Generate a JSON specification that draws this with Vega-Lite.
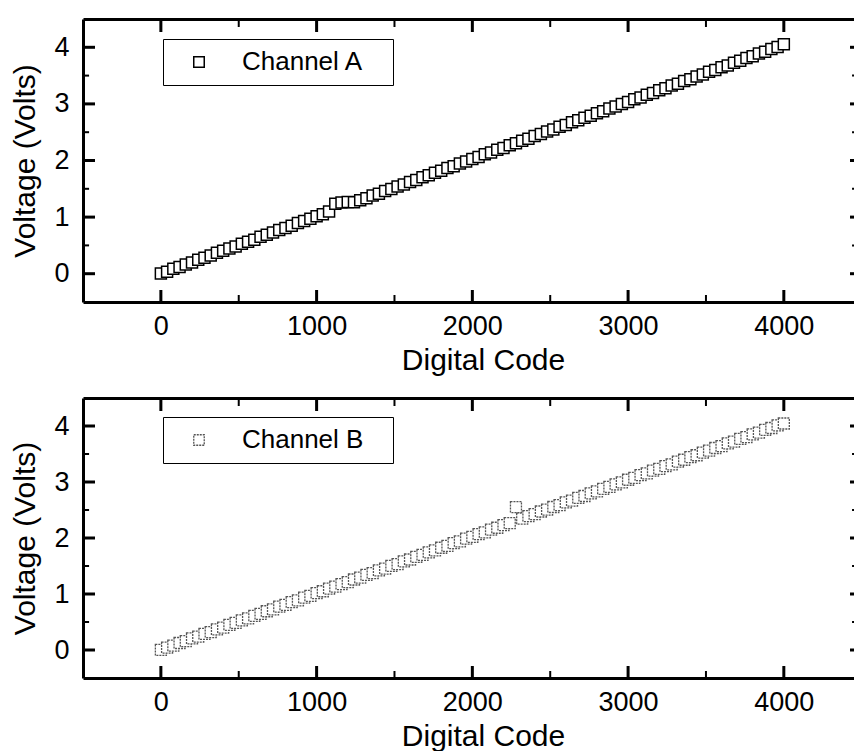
{
  "$schema": "https://vega.github.io/schema/vega-lite/v6.json",
  "padding": {"left": 10, "top": 17, "right": 0, "bottom": 0},
  "background": "white",
  "config": {
    "font": "Liberation Sans",
    "view": {"stroke": null},
    "concat": {"spacing": 21},
    "axis": {
      "grid": false,
      "domainColor": "black",
      "domainWidth": 3,
      "labelFont": "Liberation Sans",
      "labelFontSize": 27,
      "labelColor": "black",
      "titleFont": "Liberation Sans",
      "titleFontSize": 30,
      "titleFontWeight": "normal",
      "titleColor": "black"
    }
  },
  "datasets": {
    "xmajor": [{"pos": 0}, {"pos": 1000}, {"pos": 2000}, {"pos": 3000}, {"pos": 4000}],
    "xminor": [{"pos": 500}, {"pos": 1500}, {"pos": 2500}, {"pos": 3500}],
    "ymajor": [{"pos": 0}, {"pos": 1}, {"pos": 2}, {"pos": 3}, {"pos": 4}],
    "yminor": [{"pos": 0.5}, {"pos": 1.5}, {"pos": 2.5}, {"pos": 3.5}],
    "chA": [
      {"code": 0, "volts": 0.004}, {"code": 40, "volts": 0.036}, {"code": 80, "volts": 0.087}, {"code": 120, "volts": 0.119},
      {"code": 160, "volts": 0.163}, {"code": 200, "volts": 0.197}, {"code": 240, "volts": 0.247}, {"code": 280, "volts": 0.283},
      {"code": 320, "volts": 0.321}, {"code": 360, "volts": 0.369}, {"code": 400, "volts": 0.404}, {"code": 440, "volts": 0.447},
      {"code": 480, "volts": 0.480}, {"code": 520, "volts": 0.529}, {"code": 560, "volts": 0.566}, {"code": 600, "volts": 0.602},
      {"code": 640, "volts": 0.652}, {"code": 680, "volts": 0.690}, {"code": 720, "volts": 0.726}, {"code": 760, "volts": 0.774},
      {"code": 800, "volts": 0.808}, {"code": 840, "volts": 0.848}, {"code": 880, "volts": 0.895}, {"code": 920, "volts": 0.929},
      {"code": 960, "volts": 0.969}, {"code": 1000, "volts": 1.016}, {"code": 1040, "volts": 1.050}, {"code": 1080, "volts": 1.097},
      {"code": 1120, "volts": 1.236}, {"code": 1160, "volts": 1.259}, {"code": 1200, "volts": 1.268}, {"code": 1240, "volts": 1.262},
      {"code": 1280, "volts": 1.299}, {"code": 1320, "volts": 1.333}, {"code": 1360, "volts": 1.380}, {"code": 1400, "volts": 1.414},
      {"code": 1440, "volts": 1.461}, {"code": 1480, "volts": 1.495}, {"code": 1520, "volts": 1.541}, {"code": 1560, "volts": 1.575},
      {"code": 1600, "volts": 1.622}, {"code": 1640, "volts": 1.656}, {"code": 1680, "volts": 1.703}, {"code": 1720, "volts": 1.738},
      {"code": 1760, "volts": 1.785}, {"code": 1800, "volts": 1.819}, {"code": 1840, "volts": 1.866}, {"code": 1880, "volts": 1.899},
      {"code": 1920, "volts": 1.946}, {"code": 1960, "volts": 1.981}, {"code": 2000, "volts": 2.027}, {"code": 2040, "volts": 2.060},
      {"code": 2080, "volts": 2.109}, {"code": 2120, "volts": 2.142}, {"code": 2160, "volts": 2.190}, {"code": 2200, "volts": 2.222},
      {"code": 2240, "volts": 2.271}, {"code": 2280, "volts": 2.304}, {"code": 2320, "volts": 2.351}, {"code": 2360, "volts": 2.385},
      {"code": 2400, "volts": 2.433}, {"code": 2440, "volts": 2.466}, {"code": 2480, "volts": 2.513}, {"code": 2520, "volts": 2.547},
      {"code": 2560, "volts": 2.595}, {"code": 2600, "volts": 2.628}, {"code": 2640, "volts": 2.676}, {"code": 2680, "volts": 2.709},
      {"code": 2720, "volts": 2.757}, {"code": 2760, "volts": 2.790}, {"code": 2800, "volts": 2.837}, {"code": 2840, "volts": 2.871},
      {"code": 2880, "volts": 2.919}, {"code": 2920, "volts": 2.952}, {"code": 2960, "volts": 3.000}, {"code": 3000, "volts": 3.033},
      {"code": 3040, "volts": 3.080}, {"code": 3080, "volts": 3.113}, {"code": 3120, "volts": 3.161}, {"code": 3160, "volts": 3.194},
      {"code": 3200, "volts": 3.242}, {"code": 3240, "volts": 3.275}, {"code": 3280, "volts": 3.323}, {"code": 3320, "volts": 3.356},
      {"code": 3360, "volts": 3.404}, {"code": 3400, "volts": 3.437}, {"code": 3440, "volts": 3.485}, {"code": 3480, "volts": 3.518},
      {"code": 3520, "volts": 3.566}, {"code": 3560, "volts": 3.599}, {"code": 3600, "volts": 3.647}, {"code": 3640, "volts": 3.680},
      {"code": 3680, "volts": 3.728}, {"code": 3720, "volts": 3.761}, {"code": 3760, "volts": 3.809}, {"code": 3800, "volts": 3.842},
      {"code": 3840, "volts": 3.890}, {"code": 3880, "volts": 3.923}, {"code": 3920, "volts": 3.971}, {"code": 3960, "volts": 4.004},
      {"code": 4000, "volts": 4.052}
    ],
    "chB": [
      {"code": 0, "volts": 0.002}, {"code": 40, "volts": 0.043}, {"code": 80, "volts": 0.078}, {"code": 120, "volts": 0.125},
      {"code": 160, "volts": 0.158}, {"code": 200, "volts": 0.206}, {"code": 240, "volts": 0.240}, {"code": 280, "volts": 0.287},
      {"code": 320, "volts": 0.320}, {"code": 360, "volts": 0.367}, {"code": 400, "volts": 0.401}, {"code": 440, "volts": 0.449},
      {"code": 480, "volts": 0.483}, {"code": 520, "volts": 0.530}, {"code": 560, "volts": 0.563}, {"code": 600, "volts": 0.611},
      {"code": 640, "volts": 0.645}, {"code": 680, "volts": 0.692}, {"code": 720, "volts": 0.725}, {"code": 760, "volts": 0.773},
      {"code": 800, "volts": 0.806}, {"code": 840, "volts": 0.854}, {"code": 880, "volts": 0.887}, {"code": 920, "volts": 0.935},
      {"code": 960, "volts": 0.968}, {"code": 1000, "volts": 1.016}, {"code": 1040, "volts": 1.049}, {"code": 1080, "volts": 1.097},
      {"code": 1120, "volts": 1.130}, {"code": 1160, "volts": 1.178}, {"code": 1200, "volts": 1.211}, {"code": 1240, "volts": 1.259},
      {"code": 1280, "volts": 1.292}, {"code": 1320, "volts": 1.340}, {"code": 1360, "volts": 1.373}, {"code": 1400, "volts": 1.421},
      {"code": 1440, "volts": 1.454}, {"code": 1480, "volts": 1.502}, {"code": 1520, "volts": 1.535}, {"code": 1560, "volts": 1.583},
      {"code": 1600, "volts": 1.616}, {"code": 1640, "volts": 1.664}, {"code": 1680, "volts": 1.697}, {"code": 1720, "volts": 1.745},
      {"code": 1760, "volts": 1.778}, {"code": 1800, "volts": 1.826}, {"code": 1840, "volts": 1.859}, {"code": 1880, "volts": 1.907},
      {"code": 1920, "volts": 1.940}, {"code": 1960, "volts": 1.988}, {"code": 2000, "volts": 2.021}, {"code": 2040, "volts": 2.068},
      {"code": 2080, "volts": 2.102}, {"code": 2120, "volts": 2.149}, {"code": 2160, "volts": 2.183}, {"code": 2200, "volts": 2.230},
      {"code": 2240, "volts": 2.264}, {"code": 2280, "volts": 2.552}, {"code": 2320, "volts": 2.345}, {"code": 2360, "volts": 2.392},
      {"code": 2400, "volts": 2.426}, {"code": 2440, "volts": 2.473}, {"code": 2480, "volts": 2.507}, {"code": 2520, "volts": 2.554},
      {"code": 2560, "volts": 2.588}, {"code": 2600, "volts": 2.635}, {"code": 2640, "volts": 2.669}, {"code": 2680, "volts": 2.716},
      {"code": 2720, "volts": 2.750}, {"code": 2760, "volts": 2.797}, {"code": 2800, "volts": 2.831}, {"code": 2840, "volts": 2.878},
      {"code": 2880, "volts": 2.912}, {"code": 2920, "volts": 2.959}, {"code": 2960, "volts": 2.993}, {"code": 3000, "volts": 3.040},
      {"code": 3040, "volts": 3.073}, {"code": 3080, "volts": 3.121}, {"code": 3120, "volts": 3.154}, {"code": 3160, "volts": 3.202},
      {"code": 3200, "volts": 3.235}, {"code": 3240, "volts": 3.283}, {"code": 3280, "volts": 3.316}, {"code": 3320, "volts": 3.364},
      {"code": 3360, "volts": 3.397}, {"code": 3400, "volts": 3.445}, {"code": 3440, "volts": 3.478}, {"code": 3480, "volts": 3.526},
      {"code": 3520, "volts": 3.559}, {"code": 3560, "volts": 3.607}, {"code": 3600, "volts": 3.640}, {"code": 3640, "volts": 3.688},
      {"code": 3680, "volts": 3.721}, {"code": 3720, "volts": 3.769}, {"code": 3760, "volts": 3.802}, {"code": 3800, "volts": 3.850},
      {"code": 3840, "volts": 3.883}, {"code": 3880, "volts": 3.931}, {"code": 3920, "volts": 3.964}, {"code": 3960, "volts": 4.012},
      {"code": 4000, "volts": 4.045}
    ]
  },
  "vconcat": [
    {
      "width": 772,
      "height": 283,
      "layer": [
        {
          "data": {"name": "chA"},
          "mark": {"type": "point", "opacity": 0},
          "encoding": {
            "x": {"field": "code", "type": "quantitative", "scale": {"domain": [-500, 4457], "nice": false, "zero": false},
                  "axis": {"orient": "top", "labels": false, "ticks": false, "title": null, "domain": true}},
            "y": {"field": "volts", "type": "quantitative", "scale": {"domain": [-0.5, 4.5], "nice": false, "zero": false}, "axis": null}
          }
        },
        {
          "data": {"name": "xmajor"},
          "mark": {"type": "rule", "color": "black", "strokeWidth": 3},
          "encoding": {"x": {"field": "pos", "type": "quantitative", "axis": null}, "y": {"datum": -0.5, "type": "quantitative", "axis": null}, "y2": {"datum": -0.288}}
        },
        {
          "data": {"name": "xminor"},
          "mark": {"type": "rule", "color": "black", "strokeWidth": 2},
          "encoding": {"x": {"field": "pos", "type": "quantitative", "axis": null}, "y": {"datum": -0.5, "type": "quantitative", "axis": null}, "y2": {"datum": -0.376}}
        },
        {
          "data": {"name": "xmajor"},
          "mark": {"type": "rule", "color": "black", "strokeWidth": 3},
          "encoding": {"x": {"field": "pos", "type": "quantitative", "axis": null}, "y": {"datum": 4.5, "type": "quantitative", "axis": null}, "y2": {"datum": 4.27}}
        },
        {
          "data": {"name": "xminor"},
          "mark": {"type": "rule", "color": "black", "strokeWidth": 2},
          "encoding": {"x": {"field": "pos", "type": "quantitative", "axis": null}, "y": {"datum": 4.5, "type": "quantitative", "axis": null}, "y2": {"datum": 4.359}}
        },
        {
          "data": {"name": "ymajor"},
          "mark": {"type": "rule", "color": "black", "strokeWidth": 3},
          "encoding": {"y": {"field": "pos", "type": "quantitative", "axis": null}, "x": {"datum": -500, "type": "quantitative", "axis": null}, "x2": {"datum": -423}}
        },
        {
          "data": {"name": "yminor"},
          "mark": {"type": "rule", "color": "black", "strokeWidth": 2},
          "encoding": {"y": {"field": "pos", "type": "quantitative", "axis": null}, "x": {"datum": -500, "type": "quantitative", "axis": null}, "x2": {"datum": -461}}
        },
        {
          "data": {"name": "ymajor"},
          "mark": {"type": "rule", "color": "black", "strokeWidth": 3},
          "encoding": {"y": {"field": "pos", "type": "quantitative", "axis": null}, "x": {"datum": 4457, "type": "quantitative", "axis": null}, "x2": {"datum": 4425}}
        },
        {
          "data": {"name": "yminor"},
          "mark": {"type": "rule", "color": "black", "strokeWidth": 2},
          "encoding": {"y": {"field": "pos", "type": "quantitative", "axis": null}, "x": {"datum": 4457, "type": "quantitative", "axis": null}, "x2": {"datum": 4438}}
        },
        {
          "data": {"name": "chA"},
          "mark": {"type": "point", "shape": "square", "size": 121, "fill": "white", "stroke": "black", "strokeWidth": 1.5, "opacity": 1},
          "encoding": {
            "x": {"field": "code", "type": "quantitative",
                  "axis": {"orient": "bottom", "values": [0, 1000, 2000, 3000, 4000], "format": "d", "title": "Digital Code", "ticks": false, "labelPadding": 11, "titlePadding": 6, "titleX": 400}},
            "y": {"field": "volts", "type": "quantitative",
                  "axis": {"orient": "left", "values": [0, 1, 2, 3, 4], "format": "d", "title": "Voltage (Volts)", "ticks": false, "labelPadding": 14, "titlePadding": 13}},
            "stroke": {"datum": "Channel A", "type": "nominal", "scale": {"range": ["black"]},
                       "legend": {"orient": "none", "legendX": 80, "legendY": 20, "title": null, "symbolType": "square", "symbolSize": 110,
                                  "symbolStrokeWidth": 1.5, "symbolFillColor": "white", "labelFontSize": 26, "labelFont": "Liberation Sans",
                                  "labelColor": "black", "padding": 10, "symbolOffset": 13, "labelOffset": 30, "strokeColor": "black",
                                  "fillColor": "white", "labelExpr": "datum.label + '\u2800'",
                                  "encode": {"legend": {"update": {"strokeWidth": {"value": 3}}}}}}
          }
        }
      ],
      "resolve": {"axis": {"x": "independent", "y": "independent"}}
    },
    {
      "width": 772,
      "height": 280,
      "layer": [
        {
          "data": {"name": "chB"},
          "mark": {"type": "point", "opacity": 0},
          "encoding": {
            "x": {"field": "code", "type": "quantitative", "scale": {"domain": [-500, 4457], "nice": false, "zero": false},
                  "axis": {"orient": "top", "labels": false, "ticks": false, "title": null, "domain": true}},
            "y": {"field": "volts", "type": "quantitative", "scale": {"domain": [-0.5, 4.5], "nice": false, "zero": false}, "axis": null}
          }
        },
        {
          "data": {"name": "xmajor"},
          "mark": {"type": "rule", "color": "black", "strokeWidth": 3},
          "encoding": {"x": {"field": "pos", "type": "quantitative", "axis": null}, "y": {"datum": -0.5, "type": "quantitative", "axis": null}, "y2": {"datum": -0.286}}
        },
        {
          "data": {"name": "xminor"},
          "mark": {"type": "rule", "color": "black", "strokeWidth": 2},
          "encoding": {"x": {"field": "pos", "type": "quantitative", "axis": null}, "y": {"datum": -0.5, "type": "quantitative", "axis": null}, "y2": {"datum": -0.375}}
        },
        {
          "data": {"name": "xmajor"},
          "mark": {"type": "rule", "color": "black", "strokeWidth": 3},
          "encoding": {"x": {"field": "pos", "type": "quantitative", "axis": null}, "y": {"datum": 4.5, "type": "quantitative", "axis": null}, "y2": {"datum": 4.268}}
        },
        {
          "data": {"name": "xminor"},
          "mark": {"type": "rule", "color": "black", "strokeWidth": 2},
          "encoding": {"x": {"field": "pos", "type": "quantitative", "axis": null}, "y": {"datum": 4.5, "type": "quantitative", "axis": null}, "y2": {"datum": 4.357}}
        },
        {
          "data": {"name": "ymajor"},
          "mark": {"type": "rule", "color": "black", "strokeWidth": 3},
          "encoding": {"y": {"field": "pos", "type": "quantitative", "axis": null}, "x": {"datum": -500, "type": "quantitative", "axis": null}, "x2": {"datum": -423}}
        },
        {
          "data": {"name": "yminor"},
          "mark": {"type": "rule", "color": "black", "strokeWidth": 2},
          "encoding": {"y": {"field": "pos", "type": "quantitative", "axis": null}, "x": {"datum": -500, "type": "quantitative", "axis": null}, "x2": {"datum": -461}}
        },
        {
          "data": {"name": "ymajor"},
          "mark": {"type": "rule", "color": "black", "strokeWidth": 3},
          "encoding": {"y": {"field": "pos", "type": "quantitative", "axis": null}, "x": {"datum": 4457, "type": "quantitative", "axis": null}, "x2": {"datum": 4425}}
        },
        {
          "data": {"name": "yminor"},
          "mark": {"type": "rule", "color": "black", "strokeWidth": 2},
          "encoding": {"y": {"field": "pos", "type": "quantitative", "axis": null}, "x": {"datum": 4457, "type": "quantitative", "axis": null}, "x2": {"datum": 4438}}
        },
        {
          "data": {"name": "chB"},
          "mark": {"type": "point", "shape": "square", "size": 121, "fill": "white", "stroke": "#555555", "strokeWidth": 1.3, "strokeDash": [2, 1], "opacity": 1},
          "encoding": {
            "x": {"field": "code", "type": "quantitative",
                  "axis": {"orient": "bottom", "values": [0, 1000, 2000, 3000, 4000], "format": "d", "title": "Digital Code", "ticks": false, "labelPadding": 11, "titlePadding": 6, "titleX": 400}},
            "y": {"field": "volts", "type": "quantitative",
                  "axis": {"orient": "left", "values": [0, 1, 2, 3, 4], "format": "d", "title": "Voltage (Volts)", "ticks": false, "labelPadding": 14, "titlePadding": 13}},
            "stroke": {"datum": "Channel B", "type": "nominal", "scale": {"range": ["#555555"]},
                       "legend": {"orient": "none", "legendX": 80, "legendY": 19, "title": null, "symbolType": "square", "symbolSize": 110,
                                  "symbolStrokeWidth": 1.3, "symbolDash": [2, 1], "symbolFillColor": "white", "labelFontSize": 26, "labelFont": "Liberation Sans",
                                  "labelColor": "black", "padding": 10, "symbolOffset": 13, "labelOffset": 30, "strokeColor": "black",
                                  "fillColor": "white", "labelExpr": "datum.label + '\u2800'",
                                  "encode": {"legend": {"update": {"strokeWidth": {"value": 3}}}}}}
          }
        }
      ],
      "resolve": {"axis": {"x": "independent", "y": "independent"}}
    }
  ],
  "resolve": {"scale": {"stroke": "independent"}, "legend": {"stroke": "independent"}}
}
